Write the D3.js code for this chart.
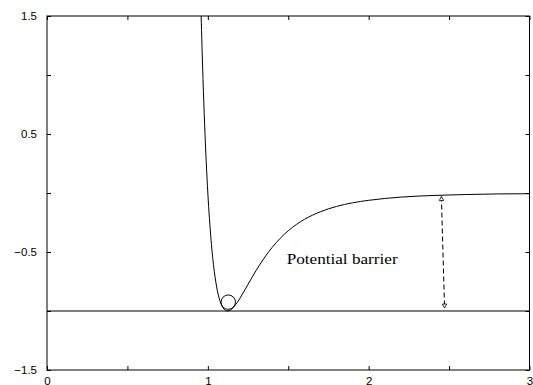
<!DOCTYPE html>
<html>
<head>
<meta charset="utf-8">
<script src="https://cdn.jsdelivr.net/npm/d3@7"></script>
<style>
  body { margin: 0; background: #fff; }
  svg { display: block; }
</style>
</head>
<body>
<svg id="chart" width="533" height="385"></svg>
<script>
// potential curve
const curveR = [0.958, 0.97, 0.98, 0.99, 1.00, 1.02, 1.04, 1.06, 1.08, 1.10, 1.12, 1.14, 1.17, 1.20, 1.25, 1.30, 1.35, 1.40, 1.50, 1.60, 1.70, 1.80, 1.90, 2.00, 2.20, 2.40, 2.60, 2.80, 3.00];
const curveV = [1.52, 0.963, 0.582, 0.264, 0.0, -0.398, -0.663, -0.832, -0.932, -0.983, -1.0, -0.992, -0.951, -0.891, -0.774, -0.657, -0.552, -0.461, -0.320, -0.224, -0.159, -0.114, -0.083, -0.062, -0.035, -0.021, -0.013, -0.008, -0.006];

const wellLevel = -1.0;           // horizontal line
const ball = { r: 1.127, v: -0.925 };
const barrier = { r0: 2.452, v0: -0.03, r1: 2.472, v1: -0.975, label: "Potential barrier", lr: 1.49, lv: -0.6 };

const xTicks = [0, 0.5, 1, 1.5, 2, 2.5, 3];
const xTickLabels = ["0", "", "1", "", "2", "", "3"];
const yTicks = [-1.5, -1, -0.5, 0, 0.5, 1, 1.5];
const yTickLabels = ["\u22121.5", "", "\u22120.5", "", "0.5", "", "1.5"];

const svg = d3.select("#chart");
const mLeft = 47, mRight = 529.5, mTop = 16, mBottom = 370;

const x = d3.scaleLinear().domain([0, 3]).range([mLeft, mRight]);
const y = d3.scaleLinear().domain([-1.5, 1.5]).range([mBottom, mTop]);

const defs = svg.append("defs");
defs.append("clipPath").attr("id", "clip")
  .append("rect")
  .attr("x", mLeft).attr("y", mTop)
  .attr("width", mRight - mLeft).attr("height", mBottom - mTop);

const marker = defs.append("marker")
  .attr("id", "head")
  .attr("viewBox", "-6 -4 8 8")
  .attr("refX", 0).attr("refY", 0)
  .attr("markerWidth", 8).attr("markerHeight", 8)
  .attr("markerUnits", "userSpaceOnUse")
  .attr("orient", "auto-start-reverse");
marker.append("path")
  .attr("d", "M-4,-2.2 L0,0 L-4,2.2 Z")
  .attr("fill", "#fff").attr("stroke", "#000").attr("stroke-width", 0.8);

const tickFont = "Liberation Sans, Arial, Helvetica, sans-serif";

// axes with inward ticks on all four sides
const axL = svg.append("g").attr("transform", `translate(${mLeft},0)`)
  .call(d3.axisLeft(y).tickValues(yTicks).tickSizeInner(-4).tickSizeOuter(0).tickPadding(10)
    .tickFormat((d, i) => yTickLabels[i]));
const axR = svg.append("g").attr("transform", `translate(${mRight},0)`)
  .call(d3.axisRight(y).tickValues(yTicks).tickSizeInner(-4).tickSizeOuter(0).tickFormat(""));
const axB = svg.append("g").attr("transform", `translate(0,${mBottom})`)
  .call(d3.axisBottom(x).tickValues(xTicks).tickSizeInner(-4).tickSizeOuter(0).tickPadding(7)
    .tickFormat((d, i) => xTickLabels[i]));
const axT = svg.append("g").attr("transform", `translate(0,${mTop})`)
  .call(d3.axisTop(x).tickValues(xTicks).tickSizeInner(-4).tickSizeOuter(0).tickFormat(""));

[axL, axR, axB, axT].forEach(g => {
  g.select(".domain").remove();
  g.selectAll(".tick line").attr("stroke", "#000");
  g.selectAll("text").attr("fill", "#000").style("font-family", tickFont).style("font-size", "11.5px");
});

// frame
svg.append("rect")
  .attr("x", mLeft).attr("y", mTop)
  .attr("width", mRight - mLeft).attr("height", mBottom - mTop)
  .attr("fill", "none").attr("stroke", "#000").attr("stroke-width", 1);

const plot = svg.append("g").attr("clip-path", "url(#clip)");

// well level line
plot.append("line")
  .attr("x1", x(0)).attr("x2", x(3))
  .attr("y1", y(wellLevel)).attr("y2", y(wellLevel))
  .attr("stroke", "#000").attr("stroke-width", 1);

// potential curve
const pts = curveR.map((r, i) => [r, curveV[i]]);
plot.append("path")
  .datum(pts)
  .attr("fill", "none")
  .attr("stroke", "#000")
  .attr("stroke-width", 1)
  .attr("d", d3.line().x(d => x(d[0])).y(d => y(d[1])).curve(d3.curveMonotoneX));

// ball in the well
plot.append("circle")
  .attr("cx", x(ball.r)).attr("cy", y(ball.v))
  .attr("r", 7.2)
  .attr("fill", "none").attr("stroke", "#000").attr("stroke-width", 1);

// barrier arrow
svg.append("line")
  .attr("x1", x(barrier.r0)).attr("y1", y(barrier.v0))
  .attr("x2", x(barrier.r1)).attr("y2", y(barrier.v1))
  .attr("stroke", "#000").attr("stroke-width", 1)
  .attr("stroke-dasharray", "5,3")
  .attr("marker-start", "url(#head)")
  .attr("marker-end", "url(#head)");

svg.append("text")
  .attr("x", x(barrier.lr)).attr("y", y(barrier.lv))
  .style("font-family", "Liberation Serif, Times New Roman, serif")
  .style("font-size", "14px")
  .attr("textLength", 111)
  .attr("lengthAdjust", "spacingAndGlyphs")
  .attr("fill", "#000")
  .text(barrier.label);
</script>
</body>
</html>
